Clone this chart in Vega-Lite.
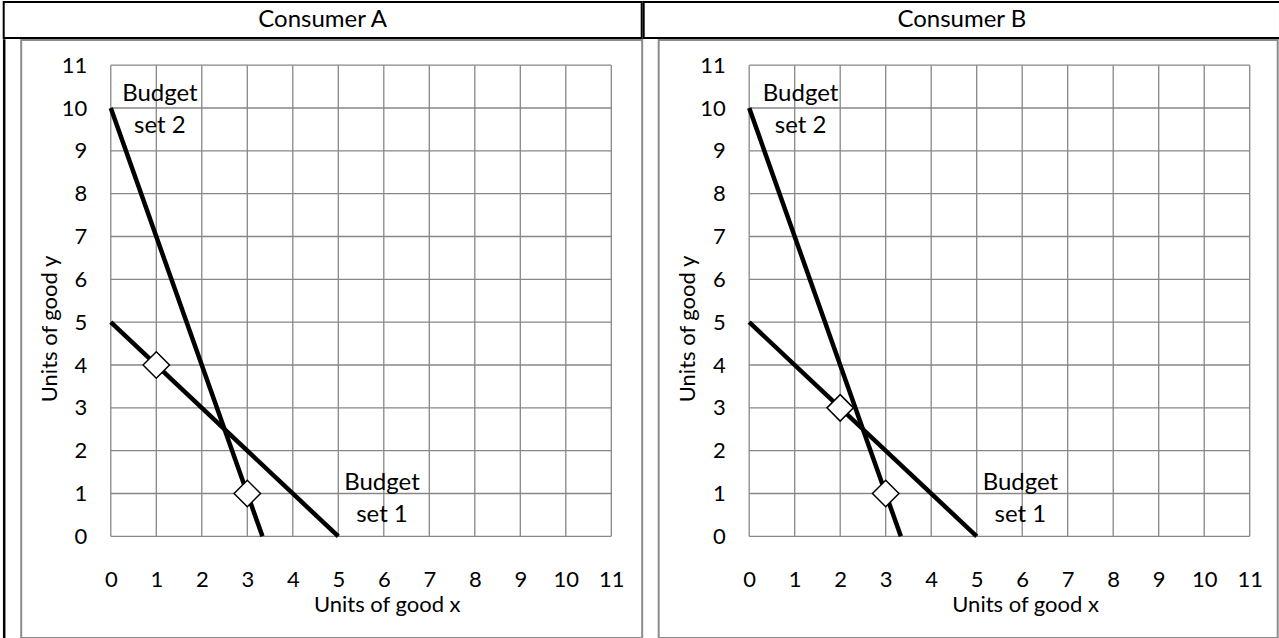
{
  "$schema": "https://vega.github.io/schema/vega-lite/v6.json",
  "padding": {"left": 2.7, "top": 1, "right": 0, "bottom": 0},
  "background": "white",
  "spacing": 0,
  "datasets": {
    "grid": [{"g":0},{"g":1},{"g":2},{"g":3},{"g":4},{"g":5},{"g":6},{"g":7},{"g":8},{"g":9},{"g":10},{"g":11}],
    "budget": [
      {"set":"1","x":0,"y":5},{"set":"1","x":5,"y":0},
      {"set":"2","x":0,"y":10},{"set":"2","x":3.333,"y":0}
    ],
    "choices": [
      {"consumer":"A","x":1,"y":4},{"consumer":"A","x":3,"y":1},
      {"consumer":"B","x":2,"y":3},{"consumer":"B","x":3,"y":1}
    ],
    "labels": [
      {"consumer":"A","text":"Budget\nset 2","x":1.08,"y":10.32},
      {"consumer":"A","text":"Budget\nset 1","x":5.96,"y":1.24},
      {"consumer":"B","text":"Budget\nset 2","x":1.13,"y":10.32},
      {"consumer":"B","text":"Budget\nset 1","x":5.96,"y":1.24}
    ],
    "headers": [{"consumer":"A","h":"Consumer A"},{"consumer":"B","h":"Consumer B"}]
  },
  "vconcat": [
    {
      "spacing": 0,
      "hconcat": [
        {
          "width": 638, "height": 36,
          "view": {"stroke": "black", "strokeWidth": 2},
          "data": {"name": "headers"},
          "transform": [{"filter": "datum.consumer === 'A'"}],
          "mark": {"type": "text", "font": "Lato", "fontSize": 24, "color": "black"},
          "encoding": {"text": {"field": "h"}}
        },
        {
          "width": 636.3, "height": 36,
          "view": {"stroke": "black", "strokeWidth": 2},
          "data": {"name": "headers"},
          "transform": [{"filter": "datum.consumer === 'B'"}],
          "mark": {"type": "text", "font": "Lato", "fontSize": 24, "color": "black"},
          "encoding": {"text": {"field": "h"}}
        }
      ]
    },
    {
      "spacing": 14.5,
      "hconcat": [
        {
          "width": 1, "height": 600,
          "view": {"stroke": "black", "strokeWidth": 1.5, "fill": "black"},
          "data": {"values": []},
          "mark": "rule",
          "encoding": {}
        },
        {
          "width": 621, "height": 598,
          "view": {"stroke": "#8c8c8c", "strokeWidth": 2},
          "layer": [
            {
              "data": {"name": "grid"},
              "mark": {"type": "rule", "color": "#878787", "strokeWidth": 1.3},
              "encoding": {
                "x": {"field": "g", "type": "quantitative",
                  "scale": {"domain": [-1.969, 11.679], "nice": false, "zero": false},
                  "axis": {"orient": "bottom", "offset": -101.7, "values": [0,1,2,3,4,5,6,7,8,9,10,11], "format": "d",
                    "grid": false, "domain": false, "ticks": false, "labelPadding": 33,
                    "labelFont": "Lato", "labelFontSize": 22, "labelColor": "black", "labelFlush": false, "labelOverlap": false,
                    "title": "Units of good x", "titleFont": "Lato", "titleFontSize": 22, "titleFontWeight": "normal", "titleColor": "black",
                    "titleX": 365.5, "titleY": 75.5, "titleAlign": "center", "titleBaseline": "alphabetic", "titleAngle": 0}},
                "y": {"datum": 0, "type": "quantitative",
                  "scale": {"domain": [-2.373, 11.588], "nice": false, "zero": false},
                  "axis": {"orient": "left", "offset": -89.6, "values": [0,1,2,3,4,5,6,7,8,9,10,11], "format": "d",
                    "grid": false, "domain": false, "ticks": false, "labelPadding": 24,
                    "labelFont": "Lato", "labelFontSize": 22, "labelColor": "black", "labelFlush": false, "labelOverlap": false,
                    "title": "Units of good y", "titleFont": "Lato", "titleFontSize": 22, "titleFontWeight": "normal", "titleColor": "black",
                    "titleX": -54.3, "titleY": 288.5, "titleAngle": -90, "titleAlign": "center", "titleBaseline": "alphabetic"}},
                "y2": {"datum": 11}
              }
            },
            {
              "data": {"name": "grid"},
              "mark": {"type": "rule", "color": "#878787", "strokeWidth": 1.3},
              "encoding": {
                "y": {"field": "g", "type": "quantitative"},
                "x": {"datum": 0, "type": "quantitative"},
                "x2": {"datum": 11}
              }
            },
            {
              "data": {"name": "budget"},
              "mark": {"type": "line", "color": "black", "strokeWidth": 4.5},
              "encoding": {
                "x": {"field": "x", "type": "quantitative"},
                "y": {"field": "y", "type": "quantitative"},
                "detail": {"field": "set"}
              }
            },
            {
              "data": {"name": "choices"},
              "transform": [{"filter": "datum.consumer === 'A'"}],
              "mark": {"type": "point", "shape": "diamond", "size": 700, "filled": true, "fill": "white", "stroke": "black", "strokeWidth": 1.5, "opacity": 1},
              "encoding": {
                "x": {"field": "x", "type": "quantitative"},
                "y": {"field": "y", "type": "quantitative"}
              }
            },
            {
              "data": {"name": "labels"},
              "transform": [{"filter": "datum.consumer === 'A'"}],
              "mark": {"type": "text", "font": "Lato", "fontSize": 24, "color": "black", "lineBreak": "\n", "lineHeight": 31.5, "align": "center", "baseline": "middle"},
              "encoding": {
                "x": {"field": "x", "type": "quantitative"},
                "y": {"field": "y", "type": "quantitative"},
                "text": {"field": "text"}
              }
            }
          ]
        },
        {
          "width": 619, "height": 598,
          "view": {"stroke": "#8c8c8c", "strokeWidth": 2},
          "layer": [
            {
              "data": {"name": "grid"},
              "mark": {"type": "rule", "color": "#878787", "strokeWidth": 1.3},
              "encoding": {
                "x": {"field": "g", "type": "quantitative",
                  "scale": {"domain": [-1.989, 11.615], "nice": false, "zero": false},
                  "axis": {"orient": "bottom", "offset": -101.7, "values": [0,1,2,3,4,5,6,7,8,9,10,11], "format": "d",
                    "grid": false, "domain": false, "ticks": false, "labelPadding": 33,
                    "labelFont": "Lato", "labelFontSize": 22, "labelColor": "black", "labelFlush": false, "labelOverlap": false,
                    "title": "Units of good x", "titleFont": "Lato", "titleFontSize": 22, "titleFontWeight": "normal", "titleColor": "black",
                    "titleX": 366.4, "titleY": 75.5, "titleAlign": "center", "titleBaseline": "alphabetic", "titleAngle": 0}},
                "y": {"datum": 0, "type": "quantitative",
                  "scale": {"domain": [-2.373, 11.588], "nice": false, "zero": false},
                  "axis": {"orient": "left", "offset": -90.5, "values": [0,1,2,3,4,5,6,7,8,9,10,11], "format": "d",
                    "grid": false, "domain": false, "ticks": false, "labelPadding": 24,
                    "labelFont": "Lato", "labelFontSize": 22, "labelColor": "black", "labelFlush": false, "labelOverlap": false,
                    "title": "Units of good y", "titleFont": "Lato", "titleFontSize": 22, "titleFontWeight": "normal", "titleColor": "black",
                    "titleX": -54.5, "titleY": 288.5, "titleAngle": -90, "titleAlign": "center", "titleBaseline": "alphabetic"}},
                "y2": {"datum": 11}
              }
            },
            {
              "data": {"name": "grid"},
              "mark": {"type": "rule", "color": "#878787", "strokeWidth": 1.3},
              "encoding": {
                "y": {"field": "g", "type": "quantitative"},
                "x": {"datum": 0, "type": "quantitative"},
                "x2": {"datum": 11}
              }
            },
            {
              "data": {"name": "budget"},
              "mark": {"type": "line", "color": "black", "strokeWidth": 4.5},
              "encoding": {
                "x": {"field": "x", "type": "quantitative"},
                "y": {"field": "y", "type": "quantitative"},
                "detail": {"field": "set"}
              }
            },
            {
              "data": {"name": "choices"},
              "transform": [{"filter": "datum.consumer === 'B'"}],
              "mark": {"type": "point", "shape": "diamond", "size": 700, "filled": true, "fill": "white", "stroke": "black", "strokeWidth": 1.5, "opacity": 1},
              "encoding": {
                "x": {"field": "x", "type": "quantitative"},
                "y": {"field": "y", "type": "quantitative"}
              }
            },
            {
              "data": {"name": "labels"},
              "transform": [{"filter": "datum.consumer === 'B'"}],
              "mark": {"type": "text", "font": "Lato", "fontSize": 24, "color": "black", "lineBreak": "\n", "lineHeight": 31.5, "align": "center", "baseline": "middle"},
              "encoding": {
                "x": {"field": "x", "type": "quantitative"},
                "y": {"field": "y", "type": "quantitative"},
                "text": {"field": "text"}
              }
            }
          ]
        }
      ]
    }
  ]
}
